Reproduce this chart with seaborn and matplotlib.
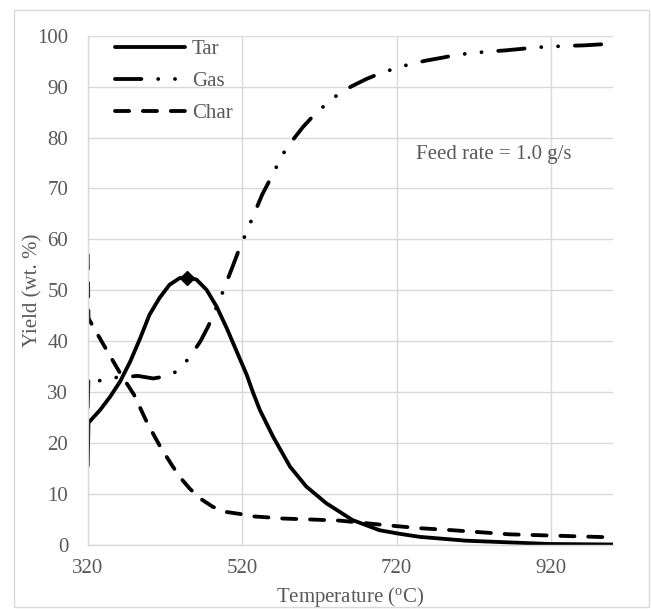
import numpy as np
import pandas as pd
import matplotlib
matplotlib.use("Agg")
import matplotlib.pyplot as plt
import seaborn as sns
from matplotlib.patches import Rectangle

# dados
temp_tar = [320, 321, 336, 349, 362, 375, 388, 400, 413, 426, 439, 449, 461, 474, 487,
            500, 513, 526, 534, 543, 560, 582, 603, 629, 663, 698, 724, 750, 810, 918, 1000]
tar = [15.5, 24.0, 26.5, 29.1, 32.1, 36.0, 40.6, 45.2, 48.5, 51.1, 52.4, 52.6, 52.1, 50.1, 46.8,
       42.6, 38.0, 33.4, 30.0, 26.5, 21.3, 15.4, 11.5, 8.2, 4.9, 2.9, 2.2, 1.6, 0.85, 0.2, 0.1]

temp_gas = [320, 321, 331, 349, 385, 405, 420, 431, 441, 454, 466, 476, 491, 499, 507, 515,
            530, 546, 556, 573, 586, 599, 616, 642, 661, 681, 702, 737, 758, 780, 800,
            840, 860, 881, 900, 941, 963, 985, 1000]
gas = [27.0, 33.0, 32.1, 32.8, 33.2, 32.7, 33.1, 33.7, 34.8, 37.3, 40.0, 42.9, 48.1, 51.3, 54.4, 57.6,
       63.0, 68.8, 71.7, 76.8, 79.6, 82.1, 84.9, 88.2, 90.0, 91.5, 92.8, 94.4, 95.1, 95.7, 96.3,
       96.9, 97.1, 97.4, 97.7, 98.0, 98.1, 98.3, 98.3]

temp_char = [320, 321, 341, 361, 380, 397, 414, 429, 439, 452, 465, 482, 499, 517, 536,
             556, 573, 592, 611, 646, 706, 750, 793, 866, 978, 1000]
char = [57.0, 44.5, 39.2, 34.0, 29.5, 24.0, 19.3, 15.7, 13.4, 11.1, 9.2, 7.5, 6.5, 6.1, 5.6,
        5.4, 5.2, 5.1, 5.0, 4.8, 3.9, 3.3, 2.9, 2.1, 1.6, 1.5]

peak_x = [449]
peak_y = [52.4]

x_ticks = [320, 520, 720, 920]
y_ticks = list(range(0, 101, 10))

sns.set_style("white")
plt.rcParams['font.family'] = ['Liberation Serif', 'DejaVu Serif']
cinza = '#595959'
grade = '#D9D9D9'
fs = 15

fig = plt.figure(figsize=(6.51, 6.11), dpi=100)
ax = fig.add_axes([0.1347, 0.108, 0.8065, 0.8336])

lw = 2.75
sns.lineplot(x=temp_tar, y=tar, ax=ax, color='black', lw=lw, label='Tar',
             solid_capstyle='round', solid_joinstyle='round')
sns.lineplot(x=temp_gas, y=gas, ax=ax, color='black', lw=lw, label='Gas',
             linestyle=(0, (6.9, 4.4, 0.01, 4.4, 0.01, 4.4)), dash_capstyle='round')
sns.lineplot(x=temp_char, y=char, ax=ax, color='black', lw=lw, label='Char',
             linestyle=(0, (3.7, 3.6)), dash_capstyle='round')
ax.plot(peak_x, peak_y, marker='D', ms=7.5, color='black', ls='none')

ax.set_xlim(320, 1000)
ax.set_ylim(0, 100)
ax.set_xticks(x_ticks)
ax.set_yticks(y_ticks)
ax.grid(True, color=grade, lw=1.0)
ax.set_axisbelow(True)
for s in ['top', 'right']:
    ax.spines[s].set_visible(False)
for s in ['left', 'bottom']:
    ax.spines[s].set_color(grade)
    ax.spines[s].set_linewidth(1.0)
ax.tick_params(axis='x', length=0, pad=10, labelsize=fs, labelcolor=cinza)
ax.tick_params(axis='y', length=0, pad=14, labelsize=fs, labelcolor=cinza)

ax.set_xlabel('Temperature ($\\mathregular{^{o}}$C)', fontsize=fs, color=cinza)
ax.set_ylabel('Yield (wt. %)', fontsize=fs, color=cinza)
ax.xaxis.set_label_coords(0.5, -0.078)
ax.yaxis.set_label_coords(-0.086, 0.5)

ax.text(745, 76.6, 'Feed rate = 1.0 g/s', fontsize=fs, color=cinza, va='center', ha='left')

leg = ax.legend(loc='upper left', bbox_to_anchor=(0.052, 0.992), frameon=False,
                borderaxespad=0, borderpad=0, handlelength=3.36, handletextpad=0.34,
                labelspacing=0.59, fontsize=fs)
for t in leg.get_texts():
    t.set_color(cinza)

fig.patches.append(Rectangle((14 / 651, 1 - 607 / 611), (649 - 14) / 651, (607 - 10) / 611,
                             transform=fig.transFigure, fill=False, edgecolor=grade, lw=1.0))

fig.savefig('out.png', dpi=100)
